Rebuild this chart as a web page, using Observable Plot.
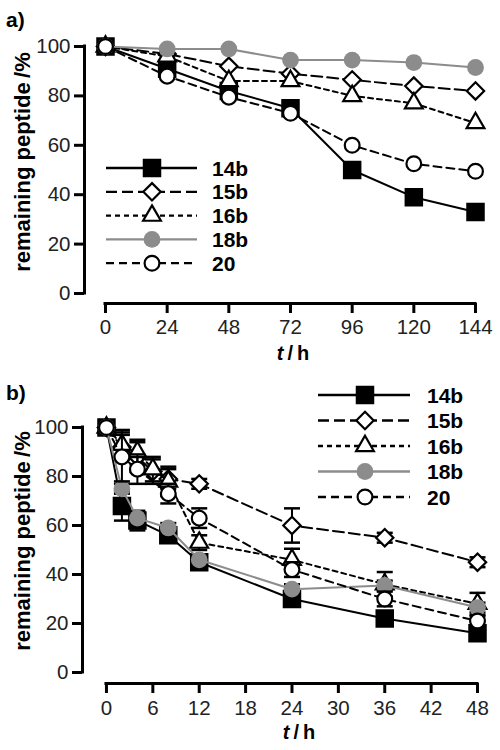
<!DOCTYPE html>
<html>
<head>
<meta charset="utf-8">
<script src="https://cdn.jsdelivr.net/npm/d3@7"></script>
<script src="https://cdn.jsdelivr.net/npm/@observablehq/plot@0.6"></script>
<style>
  html, body { margin: 0; padding: 0; background: #fff; }
  #chart { width: 500px; }
  #chart svg { display: block; }
</style>
</head>
<body>
<div id="chart"></div>
<script>
// ---------- data ----------
const seriesNames = ["14b", "15b", "16b", "18b", "20"];

// panel a (t in h, remaining peptide in %)
const timesA = [0, 24, 48, 72, 96, 120, 144];
const a14b = [100, 91, 82, 75, 50, 39, 33];
const a15b = [100, 97, 92, 89, 86.5, 84, 82];
const a16b = [100, 96, 86, 86, 80, 77, 69];
const a18b = [100, 99, 99, 94.5, 94.5, 93.5, 91.5];
const a20  = [100, 88, 79.5, 73, 60, 52.5, 49.5];

// panel b
const timesB1 = [0, 2, 4, 8, 12, 24, 36, 48];       // 14b, 18b, 20
const timesB2 = [0, 2, 4, 6, 8, 12, 24, 36, 48];    // 15b, 16b
const b14b = [100, 68, 62, 56, 45, 30, 22, 16];
const b14bErr = [0, 6, 4, 3, 3, 2, 2, 2];
const b15b = [100, 92, 88, 82, 79, 77, 60, 55, 45];
const b15bErr = [0, 5, 6, 5, 4, 2, 7, 2, 2];
const b16b = [100, 93, 90, 83, 78, 53, 46, 36, 28];
const b16bErr = [0, 6, 5, 5, 6, 3, 4.5, 5, 4.5];
const b18b = [100, 75, 63, 59, 46, 34, 35.5, 26.5];
const b18bErr = [0, 2, 2, 2, 2, 2, 2, 2];
const b20  = [100, 88, 83, 73, 63, 42, 30, 21];
const b20Err = [0, 10, 6, 4, 4, 3, 3, 2];

const yTicks = [0, 20, 40, 60, 80, 100];
const xTicksA = [0, 24, 48, 72, 96, 120, 144];
const xTicksB = [0, 6, 12, 18, 24, 30, 36, 42, 48];

// ---------- styles ----------
const FONT = "'Liberation Sans', Arial, Helvetica, sans-serif";
const GREY = "#8c8c8c";
const styles = {
  "14b": {stroke: "black", dash: null,   symbol: "square",   r: 9.2, fill: "black", mstroke: "black"},
  "15b": {stroke: "black", dash: "11,5", symbol: "diamond2", r: 7.8, fill: "white", mstroke: "black"},
  "16b": {stroke: "black", dash: "5,4",  symbol: "triangle", r: 6.6, fill: "white", mstroke: "black"},
  "18b": {stroke: GREY,    dash: null,   symbol: "circle",   r: 8.4, fill: GREY,    mstroke: "none"},
  "20":  {stroke: "black", dash: "8,5",  symbol: "circle",   r: 7.4, fill: "white", mstroke: "black"}
};

function rows(times, values, errs) {
  return times.map((t, i) => ({t, v: values[i], e: errs ? errs[i] : 0}));
}

const dataA = {
  "14b": rows(timesA, a14b), "15b": rows(timesA, a15b), "16b": rows(timesA, a16b),
  "18b": rows(timesA, a18b), "20": rows(timesA, a20)
};
const dataB = {
  "14b": rows(timesB1, b14b, b14bErr), "15b": rows(timesB2, b15b, b15bErr),
  "16b": rows(timesB2, b16b, b16bErr), "18b": rows(timesB1, b18b, b18bErr),
  "20": rows(timesB1, b20, b20Err)
};

const capSymbol = {draw(ctx) { ctx.moveTo(-8, 0); ctx.lineTo(8, 0); }};

function seriesMarks(name, data, withErr) {
  const s = styles[name];
  const out = [];
  if (withErr) {
    const ed = data.filter(d => d.e > 0);
    out.push(Plot.ruleX(ed, {x: "t", y1: d => d.v - d.e, y2: d => d.v + d.e, stroke: "black", strokeWidth: 2}));
    out.push(Plot.dot(ed, {x: "t", y: d => d.v + d.e, symbol: capSymbol, stroke: "black", strokeWidth: 2.5, fill: "none"}));
    out.push(Plot.dot(ed, {x: "t", y: d => d.v - d.e, symbol: capSymbol, stroke: "black", strokeWidth: 2.5, fill: "none"}));
  }
  out.push(Plot.line(data, {x: "t", y: "v", stroke: s.stroke, strokeWidth: 2, strokeDasharray: s.dash ?? undefined}));
  out.push(Plot.dot(data, {x: "t", y: "v", symbol: s.symbol, r: s.r, fill: s.fill,
    stroke: s.mstroke, strokeWidth: 2.2}));
  return out;
}

function panel(cfg) {
  const marks = [
    Plot.ruleX([cfg.xDomain[0]], {y1: 0, y2: 100, stroke: "black", strokeWidth: 3, strokeLinecap: "square"}),
    Plot.ruleY([cfg.yDomain[0]], {x1: cfg.xTicks[0], x2: cfg.xTicks[cfg.xTicks.length - 1], stroke: "black", strokeWidth: 3, strokeLinecap: "square"}),
    Plot.axisY({ticks: yTicks, tickSize: 10, tickPadding: 4, strokeWidth: 3, label: null, fill: "#222"}),
    Plot.axisX({ticks: cfg.xTicks, tickSize: 10, tickPadding: cfg.xPad, strokeWidth: 3, label: null, fill: "#222"})
  ];
  for (const name of seriesNames) marks.push(...seriesMarks(name, cfg.data[name], cfg.err));

  const svg = Plot.plot({
    width: 500, height: 375,
    marginTop: cfg.marginTop, marginBottom: cfg.marginBottom,
    marginLeft: cfg.marginLeft, marginRight: cfg.marginRight,
    x: {domain: cfg.xDomain},
    y: {domain: cfg.yDomain},
    style: {fontFamily: FONT, fontSize: "20.5px", background: "white", overflow: "visible"},
    marks
  });

  const g = d3.select(svg).append("g").attr("font-family", FONT).attr("text-anchor", "start");
  // panel letter
  g.append("text").attr("x", 6).attr("y", cfg.letterY).attr("font-weight", "bold")
    .attr("font-size", 21).text(cfg.letter);
  // y label
  g.append("text").attr("transform", `translate(${22},${cfg.yLabelY}) rotate(-90)`)
    .attr("text-anchor", "middle").attr("dy", "0.35em").attr("font-weight", "bold")
    .attr("font-size", 22).text("remaining peptide\u2009/%");
  // x label
  const xl = g.append("text").attr("x", cfg.xLabelX).attr("y", cfg.xLabelY)
    .attr("text-anchor", "middle").attr("font-weight", "bold").attr("font-size", 20);
  xl.append("tspan").attr("font-style", "italic").text("t");
  xl.append("tspan").text("\u2009/\u2009h");

  // legend
  const L = cfg.legend;
  const symMap = {square: d3.symbolSquare, diamond2: d3.symbolDiamond2, triangle: d3.symbolTriangle, circle: d3.symbolCircle};
  seriesNames.forEach((name, i) => {
    const s = styles[name];
    const y = L.y0 + i * L.dy;
    const item = g.append("g");
    item.append("line").attr("x1", L.x1).attr("x2", L.x2).attr("y1", y).attr("y2", y)
      .attr("stroke", s.stroke).attr("stroke-width", 2.3)
      .attr("stroke-dasharray", s.dash);
    item.append("path").attr("transform", `translate(${L.xm},${y})`)
      .attr("d", d3.symbol(symMap[s.symbol], Math.PI * s.r * s.r)())
      .attr("fill", s.fill).attr("stroke", s.mstroke === "none" ? null : s.mstroke).attr("stroke-width", 2.2);
    item.append("text").attr("x", L.xt).attr("y", y).attr("dy", "0.36em")
      .attr("text-anchor", "start")
      .attr("font-weight", "bold").attr("font-size", 21).text(name);
  });
  return svg;
}

const root = document.getElementById("chart");
root.append(panel({
  data: dataA, err: false, letter: "a)", letterY: 27, xPad: 6,
  xDomain: [-8.17, 144], yDomain: [-4.05, 100], xTicks: xTicksA,
  marginTop: 46, marginBottom: 72, marginLeft: 84, marginRight: 25,
  yLabelY: 162, xLabelX: 293, xLabelY: 360,
  legend: {x1: 106, x2: 197, xm: 152, xt: 212, y0: 168, dy: 23.8}
}));
root.append(panel({
  data: dataB, err: true, letter: "b)", letterY: 25, xPad: 7,
  xDomain: [-3.1, 48], yDomain: [-4.5, 100], xTicks: xTicksB,
  marginTop: 52, marginBottom: 67, marginLeft: 82, marginRight: 23,
  yLabelY: 166, xLabelX: 299, xLabelY: 364,
  legend: {x1: 318, x2: 410, xm: 365, xt: 427, y0: 20, dy: 25.5}
}));
</script>
</body>
</html>
